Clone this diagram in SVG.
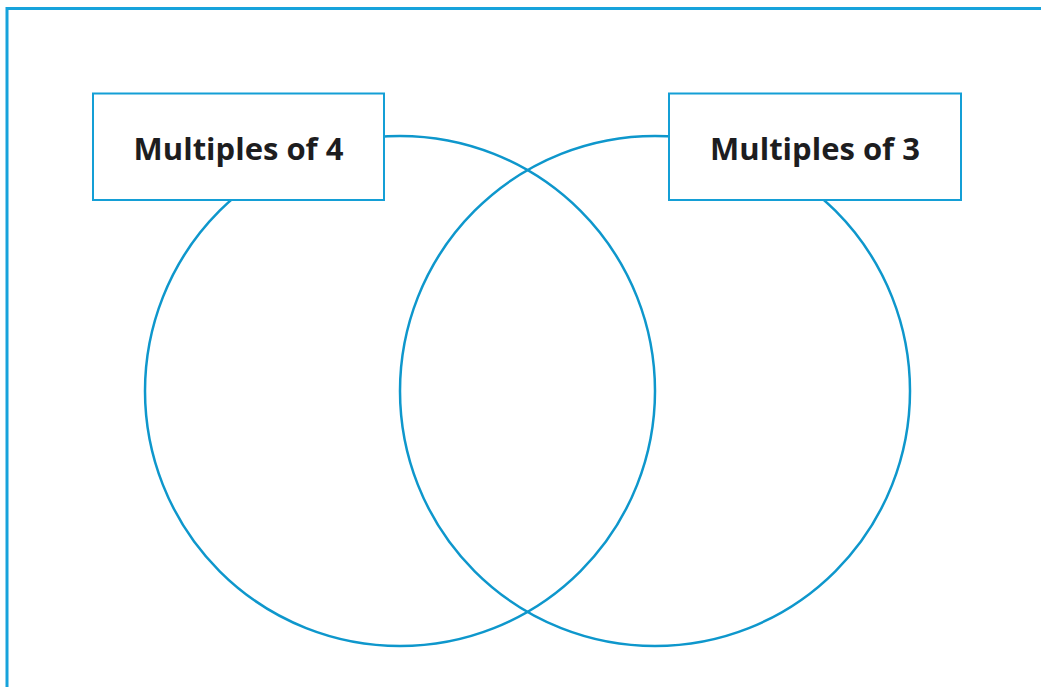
<svg xmlns="http://www.w3.org/2000/svg" width="1041" height="687" viewBox="0 0 1041 687">
<style>
.c{fill:none;stroke:#0e97cc;stroke-width:2.5}
.b{fill:#fff;stroke:#149fd6;stroke-width:2}
.t{font-family:"Open Sans","Noto Sans",sans-serif;font-weight:bold;font-size:31px;fill:#1d1d1f;text-anchor:middle}
</style>
<rect x="0" y="0" width="1041" height="687" fill="#fff"/>
<path d="M7 687 V8.5 H1041" fill="none" stroke="#17a3dc" stroke-width="3"/>
<g id="connectors">
<circle id="circle-left" class="c" cx="400" cy="391" r="255"/>
<circle id="circle-right" class="c" cx="655" cy="391" r="255"/>
</g>
<g id="label-4">
<rect class="b" x="93" y="93.5" width="291" height="106.5"/>
<text class="t" x="238.5" y="160">Multiples of 4</text>
</g>
<g id="label-3">
<rect class="b" x="669" y="93.5" width="292" height="106.5"/>
<text class="t" x="815" y="160">Multiples of 3</text>
</g>
</svg>
